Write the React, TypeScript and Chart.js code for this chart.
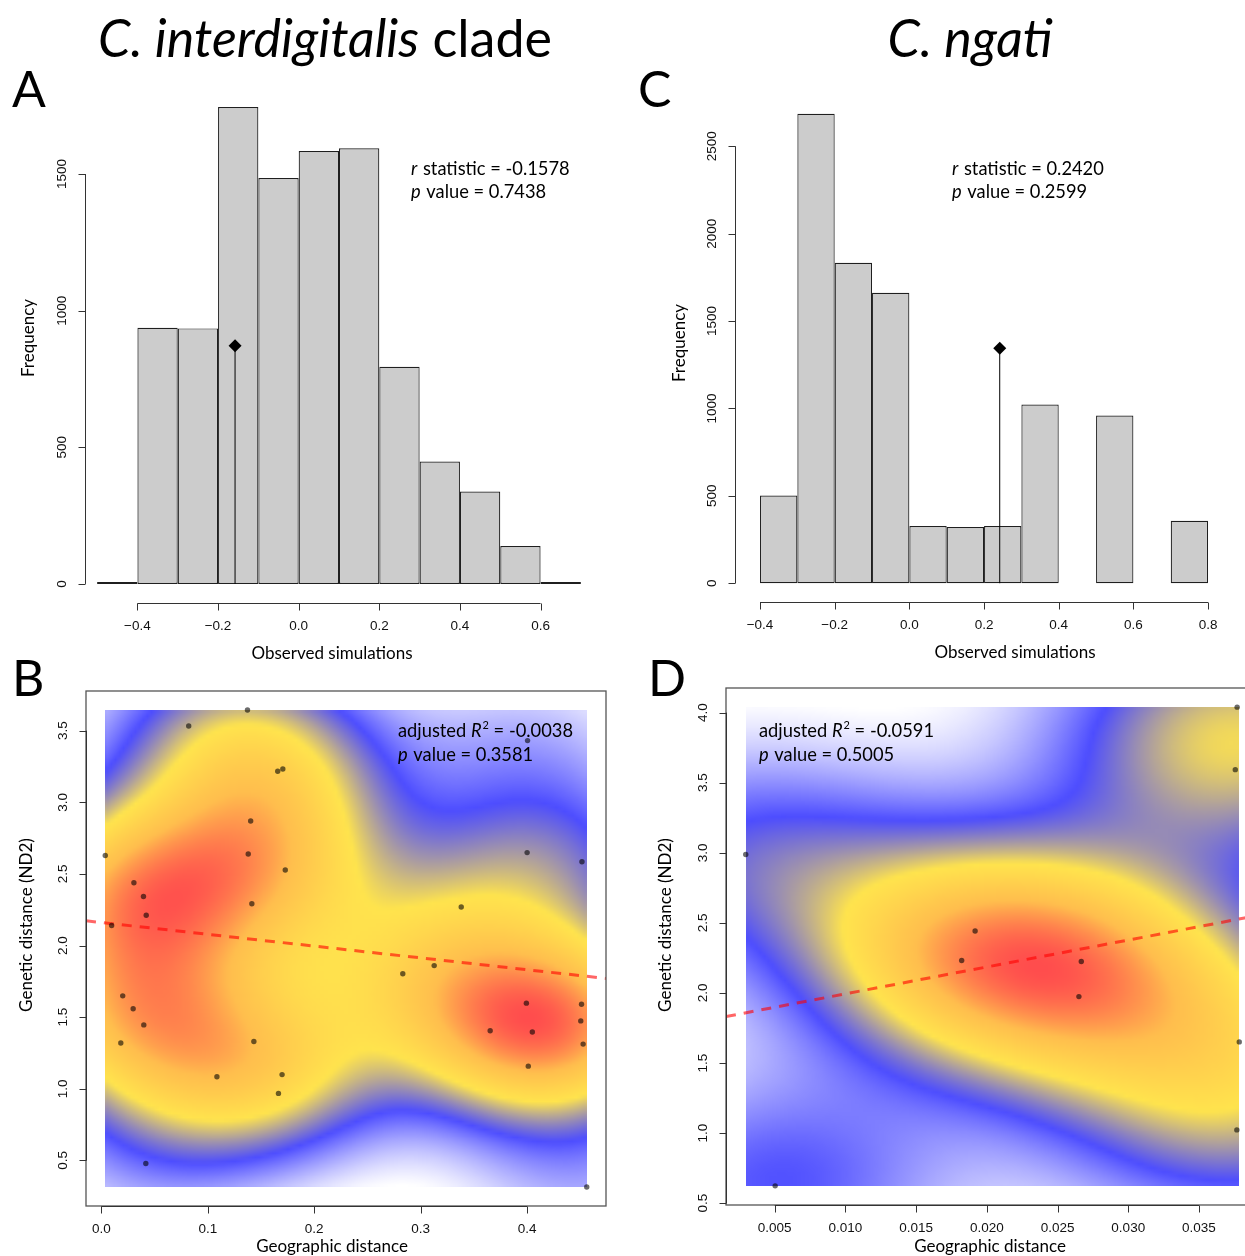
import React, { useEffect, useRef } from "react";
import { Chart, registerables } from "chart.js";
Chart.register(...registerables);

const SANS = '"Lato", "Open Sans", sans-serif';
const HELV = '"Liberation Sans", Arial, Helvetica, sans-serif';

// ===================== DATA =====================
// Panel A – C. interdigitalis clade, Mantel randomisation histogram
const A_BREAKS = [-0.5, -0.4, -0.3, -0.2, -0.1, 0.0, 0.1, 0.2, 0.3, 0.4, 0.5, 0.6, 0.7];
const A_COUNTS = [7, 937, 935, 1745, 1485, 1584, 1594, 795, 448, 338, 139, 7];
const A_OBS_R = -0.1578;
const A_OBS_FREQ = 872;
const A_P_VALUE = 0.7438;
const A_X_TICKS = [-0.4, -0.2, 0.0, 0.2, 0.4, 0.6];
const A_Y_TICKS = [0, 500, 1000, 1500];

// Panel C – C. ngati, Mantel randomisation histogram
const C_BREAKS = [-0.4, -0.3, -0.2, -0.1, 0.0, 0.1, 0.2, 0.3, 0.4, 0.5, 0.6, 0.7, 0.8];
const C_COUNTS = [502, 2686, 1833, 1662, 327, 321, 327, 1023, 0, 960, 0, 357];
const C_OBS_R = 0.242;
const C_OBS_FREQ = 1344;
const C_P_VALUE = 0.2599;
const C_X_TICKS = [-0.4, -0.2, 0.0, 0.2, 0.4, 0.6, 0.8];
const C_Y_TICKS = [0, 500, 1000, 1500, 2000, 2500];

// Panel B – C. interdigitalis clade, genetic vs geographic distance
const B_GEO = [
  0.0037, 0.0097, 0.0306, 0.0396, 0.0422, 0.0201, 0.0299, 0.0399, 0.0183, 0.0418,
  0.0821, 0.1373, 0.1657, 0.1705, 0.1403, 0.138, 0.1728, 0.1414, 0.1433, 0.1086,
  0.1698, 0.1664, 0.2832, 0.3127, 0.3381, 0.4004, 0.4, 0.4515, 0.3993, 0.4049,
  0.3653, 0.4011, 0.4511, 0.4504, 0.4526, 0.456,
];
const B_GEN = [
  2.629, 2.14, 2.438, 2.343, 2.212, 1.649, 1.559, 1.446, 1.32, 0.479,
  3.533, 3.644, 3.217, 3.233, 2.87, 2.639, 2.528, 2.292, 1.33, 1.084,
  1.099, 0.968, 1.803, 1.86, 2.269, 3.431, 2.649, 2.585, 1.598, 1.397,
  1.405, 1.158, 1.59, 1.474, 1.312, 0.315,
];
const B_ADJ_R2 = -0.0038;
const B_P_VALUE = 0.3581;
const B_INTERCEPT = 2.161;
const B_SLOPE = -0.824;
const B_X_TICKS = [0.0, 0.1, 0.2, 0.3, 0.4];
const B_Y_TICKS = [0.5, 1.0, 1.5, 2.0, 2.5, 3.0, 3.5];

// Panel D – C. ngati, genetic vs geographic distance
const D_GEO = [0.00295, 0.00503, 0.01822, 0.01917, 0.02668, 0.02651, 0.0377, 0.03757, 0.03785, 0.03768];
const D_GEN = [2.988, 0.624, 2.232, 2.442, 2.224, 1.974, 4.039, 3.593, 1.651, 1.023];
const D_ADJ_R2 = -0.0591;
const D_P_VALUE = 0.5005;
const D_INTERCEPT = 1.802;
const D_SLOPE = 19.18;
const D_X_TICKS = [0.005, 0.01, 0.015, 0.02, 0.025, 0.03, 0.035];
const D_Y_TICKS = [0.5, 1.0, 1.5, 2.0, 2.5, 3.0, 3.5, 4.0];

// density colour ramp (white → blue → yellow → orange → red)
const HEAT_STOPS = [
  [255, 255, 255],
  [77, 77, 255],
  [255, 228, 77],
  [255, 190, 77],
  [255, 77, 77],
];

// ===================== HELPERS =====================
type Seg = { t: string; it?: boolean; sup?: boolean };
type Note = { segs: Seg[]; x: number; y: number };

function fmtTick(v: number, dec: number) {
  const s = v.toFixed(dec);
  return s.startsWith("-") ? "\u2212" + s.slice(1) : s;
}

function bwNrd(v: number[]) {
  const n = v.length;
  const mean = v.reduce((a, b) => a + b, 0) / n;
  const sd = Math.sqrt(v.reduce((a, b) => a + (b - mean) ** 2, 0) / (n - 1));
  const s = [...v].sort((a, b) => a - b);
  const q = (p: number) => {
    const h = (n - 1) * p;
    const lo = Math.floor(h);
    const hi = Math.min(lo + 1, n - 1);
    return s[lo] + (h - lo) * (s[hi] - s[lo]);
  };
  const iqr = q(0.75) - q(0.25);
  return 4 * 1.06 * Math.min(sd, iqr / 1.34) * Math.pow(n, -0.2);
}

function rampColor(t: number) {
  const k = HEAT_STOPS.length - 1;
  const p = Math.max(0, Math.min(1, t)) * k;
  const i = Math.min(Math.floor(p), k - 1);
  const f = p - i;
  const a = HEAT_STOPS[i], b = HEAT_STOPS[i + 1];
  return [a[0] + (b[0] - a[0]) * f, a[1] + (b[1] - a[1]) * f, a[2] + (b[2] - a[2]) * f];
}

function kdePlugin(xs: number[], ys: number[], n: number, bwScale: number) {
  let img: HTMLCanvasElement | null = null;
  const xmin = Math.min(...xs), xmax = Math.max(...xs);
  const ymin = Math.min(...ys), ymax = Math.max(...ys);
  const build = () => {
    const hx = (bwNrd(xs) / 4) * bwScale;
    const hy = (bwNrd(ys) / 4) * bwScale;
    const z = new Float64Array(n * n);
    let zmin = Infinity, zmax = -Infinity;
    for (let j = 0; j < n; j++) {
      const gy = ymax - (j * (ymax - ymin)) / (n - 1);
      for (let i = 0; i < n; i++) {
        const gx = xmin + (i * (xmax - xmin)) / (n - 1);
        let s = 0;
        for (let k = 0; k < xs.length; k++) {
          const u = (gx - xs[k]) / hx, w = (gy - ys[k]) / hy;
          s += Math.exp(-0.5 * (u * u + w * w));
        }
        z[j * n + i] = s;
        if (s < zmin) zmin = s;
        if (s > zmax) zmax = s;
      }
    }
    const c = document.createElement("canvas");
    c.width = n;
    c.height = n;
    const cx = c.getContext("2d")!;
    const id = cx.createImageData(n, n);
    for (let p = 0; p < n * n; p++) {
      const col = rampColor((z[p] - zmin) / (zmax - zmin));
      id.data[p * 4] = col[0];
      id.data[p * 4 + 1] = col[1];
      id.data[p * 4 + 2] = col[2];
      id.data[p * 4 + 3] = 255;
    }
    cx.putImageData(id, 0, 0);
    return c;
  };
  return {
    id: "kdeHeat",
    beforeDatasetsDraw(chart: any) {
      if (!img) img = build();
      const { ctx, scales } = chart;
      const L = scales.x.getPixelForValue(xmin);
      const R = scales.x.getPixelForValue(xmax);
      const T = scales.y.getPixelForValue(ymax);
      const B = scales.y.getPixelForValue(ymin);
      ctx.save();
      ctx.imageSmoothingEnabled = true;
      ctx.drawImage(img, L, T, R - L, B - T);
      ctx.restore();
    },
  };
}

type AxesCfg = {
  xTicks: number[];
  yTicks: number[];
  xDec: number;
  yDec: number;
  box: boolean;
  xTitle: { text: string; x: number; y: number };
  yTitle: { text: string; x: number; y: number };
  notes: Note[];
};

function drawRich(ctx: CanvasRenderingContext2D, segs: Seg[], x: number, y: number, size: number) {
  let cx = x;
  ctx.textAlign = "left";
  ctx.textBaseline = "middle";
  for (const s of segs) {
    const fs = s.sup ? size * 0.6 : size;
    ctx.font = `${s.it ? "italic " : ""}${fs}px ${SANS}`;
    const dy = s.sup ? -size * 0.3 : 0;
    ctx.fillText(s.t, cx, y + dy);
    cx += ctx.measureText(s.t).width + (s.it ? 1 : 0);
  }
}

function axesPlugin(cfg: AxesCfg) {
  return {
    id: "rAxes",
    afterDraw(chart: any) {
      const { ctx, chartArea: ca, scales } = chart;
      const xs = scales.x, ys = scales.y;
      const tick = 7;
      ctx.save();
      ctx.strokeStyle = "#333";
      ctx.fillStyle = "#111";
      ctx.lineWidth = 1;
      if (cfg.box) {
        ctx.strokeStyle = "#555";
        ctx.lineWidth = 1.3;
        ctx.strokeRect(ca.left, ca.top, ca.right - ca.left, ca.bottom - ca.top);
        ctx.strokeStyle = "#333";
        ctx.lineWidth = 1;
      }
      // x axis
      const yAx = Math.round(ca.bottom) + 0.5;
      ctx.beginPath();
      ctx.moveTo(xs.getPixelForValue(cfg.xTicks[0]), yAx);
      ctx.lineTo(xs.getPixelForValue(cfg.xTicks[cfg.xTicks.length - 1]), yAx);
      for (const v of cfg.xTicks) {
        const px = Math.round(xs.getPixelForValue(v)) + 0.5;
        ctx.moveTo(px, yAx);
        ctx.lineTo(px, yAx + tick);
      }
      ctx.stroke();
      ctx.font = `13.5px ${HELV}`;
      ctx.textAlign = "center";
      ctx.textBaseline = "middle";
      for (const v of cfg.xTicks) {
        ctx.fillText(fmtTick(v, cfg.xDec), xs.getPixelForValue(v), yAx + 23);
      }
      // y axis
      const xAx = Math.round(ca.left) + 0.5;
      ctx.beginPath();
      ctx.moveTo(xAx, ys.getPixelForValue(cfg.yTicks[0]));
      ctx.lineTo(xAx, ys.getPixelForValue(cfg.yTicks[cfg.yTicks.length - 1]));
      for (const v of cfg.yTicks) {
        const py = Math.round(ys.getPixelForValue(v)) + 0.5;
        ctx.moveTo(xAx, py);
        ctx.lineTo(xAx - tick, py);
      }
      ctx.stroke();
      for (const v of cfg.yTicks) {
        ctx.save();
        ctx.translate(xAx - 23, ys.getPixelForValue(v));
        ctx.rotate(-Math.PI / 2);
        ctx.fillText(fmtTick(v, cfg.yDec), 0, 0);
        ctx.restore();
      }
      // titles
      ctx.fillStyle = "#000";
      ctx.font = `17px ${SANS}`;
      ctx.textAlign = "center";
      ctx.textBaseline = "middle";
      ctx.fillText(cfg.xTitle.text, cfg.xTitle.x, cfg.xTitle.y);
      ctx.save();
      ctx.translate(cfg.yTitle.x, cfg.yTitle.y);
      ctx.rotate(-Math.PI / 2);
      ctx.fillText(cfg.yTitle.text, 0, 0);
      ctx.restore();
      for (const n of cfg.notes) drawRich(ctx, n.segs, n.x, n.y, 18.3);
      ctx.restore();
    },
  };
}

const baseOptions = (padding: any) => ({
  animation: false,
  responsive: false,
  devicePixelRatio: 1,
  events: [],
  layout: { padding },
  plugins: { legend: { display: false }, tooltip: { enabled: false } },
});

function histConfig(p: any) {
  const maxC = Math.max(...p.counts);
  const bars = p.counts.map((c: number, i: number) => ({ x: (p.breaks[i] + p.breaks[i + 1]) / 2, y: c }));
  return {
    type: "bar",
    data: {
      datasets: [
        {
          type: "scatter",
          data: [{ x: p.obsR, y: p.obsFreq }],
          pointStyle: "rectRot",
          pointRadius: 6.5,
          pointBackgroundColor: "#000",
          pointBorderColor: "#000",
          pointBorderWidth: 0,
          order: 1,
        },
        {
          type: "line",
          data: [
            { x: p.obsR, y: 0 },
            { x: p.obsR, y: p.obsFreq },
          ],
          borderColor: "#000",
          borderWidth: 1,
          pointRadius: 0,
          order: 2,
        },
        {
          type: "bar",
          data: bars,
          backgroundColor: "#cccccc",
          borderColor: "#1f1f1f",
          borderWidth: 1.2,
          borderSkipped: false,
          barPercentage: 1,
          categoryPercentage: 1,
          inflateAmount: 0,
          order: 3,
        },
      ],
    },
    options: {
      ...baseOptions(p.padding),
      scales: {
        x: { type: "linear", display: false, min: p.xMin, max: p.xMax, offset: false },
        y: { type: "linear", display: false, min: -0.04 * maxC, max: 1.04 * maxC },
      },
    },
    plugins: [axesPlugin(p.axes)],
  };
}

function ext(arr: number[]) {
  const lo = Math.min(...arr), hi = Math.max(...arr), r = hi - lo;
  return [lo - 0.04 * r, hi + 0.04 * r];
}

function scatterConfig(p: any) {
  const [xMin, xMax] = ext(p.xs);
  const [yMin, yMax] = ext(p.ys);
  return {
    type: "scatter",
    data: {
      datasets: [
        {
          data: p.xs.map((x: number, i: number) => ({ x, y: p.ys[i] })),
          pointRadius: 2.7,
          pointBackgroundColor: "rgba(0,0,0,0.58)",
          pointBorderWidth: 0,
          order: 1,
        },
        {
          type: "line",
          data: [
            { x: xMin, y: p.b0 + p.b1 * xMin },
            { x: xMax, y: p.b0 + p.b1 * xMax },
          ],
          borderColor: "rgba(255,0,0,0.6)",
          borderWidth: 3,
          borderDash: [10, 8],
          pointRadius: 0,
          order: 2,
        },
      ],
    },
    options: {
      ...baseOptions(p.padding),
      scales: {
        x: { type: "linear", display: false, min: xMin, max: xMax },
        y: { type: "linear", display: false, min: yMin, max: yMax },
      },
    },
    plugins: [kdePlugin(p.xs, p.ys, 120, 1.0), axesPlugin(p.axes)],
  };
}

const statR = (v: number, p: number): Note[] => [
  { segs: [{ t: "r", it: true }, { t: " statistic = " + v.toFixed(4) }], x: 0, y: 0 },
  { segs: [{ t: "p", it: true }, { t: " value = " + p.toFixed(4) }], x: 0, y: 23 },
];
const statLm = (r2: number, p: number): Note[] => [
  { segs: [{ t: "adjusted " }, { t: "R", it: true }, { t: "2", sup: true }, { t: " = " + r2.toFixed(4) }], x: 0, y: 0 },
  { segs: [{ t: "p", it: true }, { t: " value = " + p.toFixed(4) }], x: 0, y: 24 },
];
const place = (notes: Note[], x: number, y: number) => notes.map((n) => ({ ...n, x: x + n.x, y: y + n.y }));

// ===================== PANELS =====================
const PANEL_A = {
  box: { left: 0, top: 60, width: 620, height: 610 },
  kind: "hist",
  breaks: A_BREAKS,
  counts: A_COUNTS,
  obsR: A_OBS_R,
  obsFreq: A_OBS_FREQ,
  xMin: -0.53,
  xMax: 0.73,
  padding: { left: 85, top: 28, right: 27, bottom: 67 },
  axes: {
    xTicks: A_X_TICKS,
    yTicks: A_Y_TICKS,
    xDec: 1,
    yDec: 0,
    box: false,
    xTitle: { text: "Observed simulations", x: 332, y: 594 },
    yTitle: { text: "Frequency", x: 29, y: 278 },
    notes: place(statR(A_OBS_R, A_P_VALUE), 411, 109),
  },
};

const PANEL_C = {
  box: { left: 620, top: 60, width: 625, height: 610 },
  kind: "hist",
  breaks: C_BREAKS,
  counts: C_COUNTS,
  obsR: C_OBS_R,
  obsFreq: C_OBS_FREQ,
  xMin: -0.467,
  xMax: 0.848,
  padding: { left: 115, top: 35, right: 19, bottom: 68 },
  axes: {
    xTicks: C_X_TICKS,
    yTicks: C_Y_TICKS,
    xDec: 1,
    yDec: 0,
    box: false,
    xTitle: { text: "Observed simulations", x: 395, y: 593 },
    yTitle: { text: "Frequency", x: 60, y: 283 },
    notes: place(statR(C_OBS_R, C_P_VALUE), 332, 109),
  },
};

const PANEL_B = {
  box: { left: 0, top: 680, width: 620, height: 576 },
  kind: "scatter",
  xs: B_GEO,
  ys: B_GEN,
  b0: B_INTERCEPT,
  b1: B_SLOPE,
  padding: { left: 86, top: 11, right: 14, bottom: 50 },
  axes: {
    xTicks: B_X_TICKS,
    yTicks: B_Y_TICKS,
    xDec: 1,
    yDec: 1,
    box: true,
    xTitle: { text: "Geographic distance", x: 332, y: 567 },
    yTitle: { text: "Genetic distance (ND2)", x: 27, y: 245 },
    notes: place(statLm(B_ADJ_R2, B_P_VALUE), 398, 51),
  },
};

const PANEL_D = {
  box: { left: 620, top: 680, width: 660, height: 576 },
  kind: "scatter",
  xs: D_GEO,
  ys: D_GEN,
  b0: D_INTERCEPT,
  b1: D_SLOPE,
  padding: { left: 106, top: 8, right: 21, bottom: 51 },
  axes: {
    xTicks: D_X_TICKS,
    yTicks: D_Y_TICKS,
    xDec: 3,
    yDec: 1,
    box: true,
    xTitle: { text: "Geographic distance", x: 370, y: 567 },
    yTitle: { text: "Genetic distance (ND2)", x: 46, y: 245 },
    notes: place(statLm(D_ADJ_R2, D_P_VALUE), 139, 51),
  },
};

function Panel({ p }: { p: any }) {
  const ref = useRef<HTMLCanvasElement>(null);
  useEffect(() => {
    if (!ref.current) return;
    const cfg: any = p.kind === "hist" ? histConfig(p) : scatterConfig(p);
    const chart = new Chart(ref.current, cfg);
    return () => chart.destroy();
  }, [p]);
  return (
    <canvas
      ref={ref}
      width={p.box.width}
      height={p.box.height}
      style={{ position: "absolute", left: p.box.left, top: p.box.top, width: p.box.width, height: p.box.height }}
    />
  );
}

const textBase: React.CSSProperties = {
  position: "absolute",
  fontFamily: SANS,
  lineHeight: 1,
  whiteSpace: "nowrap",
  color: "#000",
};

export default function App() {
  return (
    <div
      style={{
        position: "absolute",
        left: 0,
        top: 0,
        width: 1245,
        height: 1256,
        overflow: "hidden",
        background: "#fff",
      }}
    >
      <Panel p={PANEL_A} />
      <Panel p={PANEL_C} />
      <Panel p={PANEL_B} />
      <Panel p={PANEL_D} />
      <div style={{ ...textBase, left: 325, top: 37, fontSize: 52, transform: "translate(-50%,-50%)" }}>
        <i>C. interdigitalis</i> clade
      </div>
      <div style={{ ...textBase, left: 970, top: 37, fontSize: 52, transform: "translate(-50%,-50%)" }}>
        <i>C. ngati</i>
      </div>
      <div style={{ ...textBase, left: 12, top: 88, fontSize: 50, transform: "translate(0,-50%)" }}>A</div>
      <div style={{ ...textBase, left: 638, top: 88, fontSize: 50, transform: "translate(0,-50%)" }}>C</div>
      <div style={{ ...textBase, left: 12, top: 677, fontSize: 50, transform: "translate(0,-50%)" }}>B</div>
      <div style={{ ...textBase, left: 648, top: 677, fontSize: 50, transform: "translate(0,-50%)" }}>D</div>
    </div>
  );
}
